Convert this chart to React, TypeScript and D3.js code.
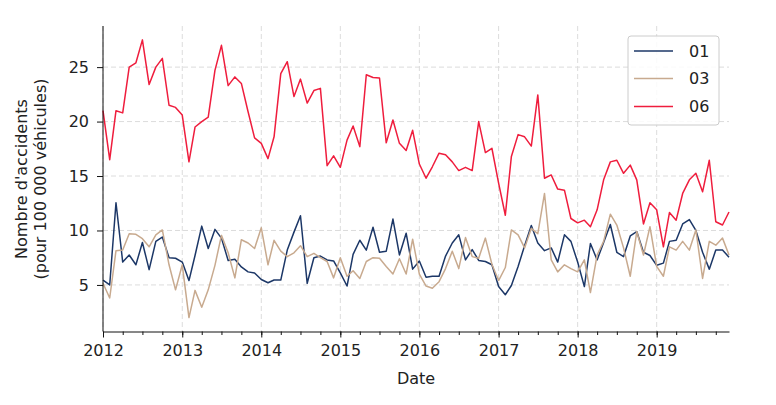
import React, { useRef, useEffect } from 'react';
import { select, scaleTime, scaleLinear, axisBottom, axisLeft, line, timeMonth, timeYear, timeFormat, min, max } from 'd3';

// monthly values, Jan 2012 -> Dec 2019
const months = timeMonth.range(new Date(2012, 0, 1), new Date(2020, 0, 1));

const serie01 = [
  5.45, 5.0, 12.55, 7.1, 7.75, 6.85, 8.9, 6.4, 9.0, 9.4, 7.5, 7.45,
  7.1, 5.4, 7.7, 10.4, 8.35, 10.1, 9.3, 7.25, 7.35, 6.65, 6.2, 6.1,
  5.5, 5.2, 5.45, 5.45, 8.2, 9.85, 11.35, 5.15, 7.5, 7.65, 7.3, 7.2,
  6.1, 4.9, 7.8, 9.1, 8.2, 10.3, 8.0, 8.1, 11.05, 7.75, 9.75, 6.45,
  7.2, 5.7, 5.8, 5.8, 7.65, 8.85, 9.6, 7.3, 8.25, 7.25, 7.15, 6.85,
  4.85, 4.1, 4.95, 6.7, 8.6, 10.45, 8.85, 8.15, 8.4, 7.1, 9.6, 9.0,
  7.1, 4.85, 8.8, 7.3, 8.9, 10.55, 8.0, 7.6, 9.5, 9.9, 8.0, 7.7,
  6.8, 7.0, 9.0, 9.1, 10.6, 11.0, 10.0, 8.0, 6.45, 8.2, 8.2, 7.55,
];

const serie03 = [
  5.15, 3.8, 8.15, 8.2, 9.7, 9.65, 9.25, 8.5, 9.6, 10.05, 6.85, 4.55,
  6.85, 2.0, 4.5, 2.95, 4.55, 6.8, 9.55, 7.95, 5.65, 9.15, 8.85, 8.35,
  10.25, 6.85, 9.1, 8.1, 7.6, 7.95, 8.6, 7.6, 7.9, 7.5, 7.15, 5.65,
  7.5, 5.8, 6.3, 5.6, 7.15, 7.5, 7.45, 6.7, 6.0, 7.4, 6.0, 9.2,
  6.0, 4.9, 4.7, 5.3, 6.5, 8.1, 6.5, 9.35, 7.6, 7.45, 9.3, 6.9,
  5.4, 6.6, 10.05, 9.6, 8.4, 10.2, 9.7, 13.4, 7.3, 6.2, 6.85, 6.5,
  6.2, 7.3, 4.3, 7.75, 9.0, 11.5, 10.5, 8.4, 5.8, 9.9, 7.75, 10.35,
  6.7, 5.8, 8.5, 8.2, 9.0, 8.2, 10.05, 5.6, 9.0, 8.65, 9.3, 7.75,
];

const serie06 = [
  21.0, 16.5, 21.0, 20.8, 25.0, 25.4, 27.5, 23.4, 25.0, 25.8, 21.5, 21.3,
  20.6, 16.3, 19.5, 20.0, 20.4, 24.7, 27.0, 23.3, 24.1, 23.5, 20.9, 18.5,
  18.0, 16.6, 18.6, 24.4, 25.5, 22.3, 23.9, 21.7, 22.85, 23.05, 15.95, 16.85,
  15.8, 18.3, 19.6, 17.7, 24.3, 24.05, 24.0, 18.05, 20.15, 18.0, 17.35, 19.2,
  16.1, 14.8, 15.85, 17.1, 16.95, 16.3, 15.5, 15.8, 15.5, 20.0, 17.15, 17.55,
  14.35, 11.4, 16.8, 18.8, 18.6, 17.75, 22.45, 14.8, 15.1, 13.8, 13.7, 11.1,
  10.7, 10.95, 10.35, 11.9, 14.65, 16.3, 16.45, 15.25, 16.0, 14.65, 10.6, 12.55,
  11.9, 8.5, 11.65, 10.95, 13.4, 14.65, 15.25, 13.55, 16.45, 10.8, 10.5, 11.7,
];

const seriesNames = ['01', '03', '06'];
const seriesValues = [serie01, serie03, serie06];
const colors = ['#1c3767', '#c8aa8f', '#ef1d3d'];
const yTicks = [5, 10, 15, 20, 25];

const FONT = 'DejaVu Sans, sans-serif';

const App = () => {
  const svgRef = useRef(null);

  useEffect(() => {
    const svg = select(svgRef.current);
    const left = 103, right = 729, top = 26, bottom = 331.5;

    const all = seriesValues.flat();
    const lo = min(all), hi = max(all);
    const pad = (hi - lo) * 0.05;

    const xScale = scaleTime()
      .domain([months[0], months[months.length - 1]])
      .range([left, right]);

    const yScale = scaleLinear()
      .domain([lo - pad, hi + pad])
      .range([bottom, top]);

    const yearTicks = xScale.ticks(timeYear.every(1));

    // grid
    svg.select('.grid')
      .selectAll('line.gx')
      .data(yearTicks)
      .join('line')
      .attr('class', 'gx')
      .attr('x1', d => xScale(d)).attr('x2', d => xScale(d))
      .attr('y1', top).attr('y2', bottom)
    svg.select('.grid')
      .selectAll('line.gy')
      .data(yTicks)
      .join('line')
      .attr('class', 'gy')
      .attr('x1', left).attr('x2', right)
      .attr('y1', d => yScale(d)).attr('y2', d => yScale(d))
    svg.select('.grid').selectAll('line')
      .attr('stroke', '#dcdcdc')
      .attr('stroke-width', 1)
      .attr('stroke-dasharray', '5,3')

    // lines
    const lineGen = line()
      .x((d, i) => xScale(months[i]))
      .y(d => yScale(d))

    svg.select('.series')
      .selectAll('path')
      .data(seriesValues)
      .join('path')
      .attr('d', d => lineGen(d))
      .attr('fill', 'none')
      .attr('stroke', (d, i) => colors[i])
      .attr('stroke-width', 1.5)
      .attr('stroke-linejoin', 'round')

    //x-axis minor
    svg.select('.x-minor')
      .attr('transform', `translate(0,${bottom})`)
      .call(axisBottom(xScale).ticks(timeMonth.every(3)).tickSize(3.5).tickSizeOuter(0).tickFormat(() => ''))
    svg.select('.x-minor .domain').remove()

    //x-axis
    svg.select('.x-axis')
      .attr('transform', `translate(0,${bottom})`)
      .call(axisBottom(xScale).ticks(timeYear.every(1)).tickFormat(timeFormat('%Y')).tickSize(6).tickSizeOuter(0).tickPadding(7))

    //y-axis
    svg.select('.y-axis')
      .attr('transform', `translate(${left},0)`)
      .call(axisLeft(yScale).tickValues(yTicks).tickSize(6).tickSizeOuter(0).tickPadding(8))
    svg.select('.y-axis .domain').attr('d', `M0,${bottom}V${top}`)

    svg.selectAll('.x-axis text, .y-axis text')
      .attr('font-family', FONT)
      .attr('font-size', 16)
      .attr('fill', '#222')
    svg.selectAll('.x-axis line, .x-minor line, .y-axis line, .domain')
      .attr('stroke', '#111')
  }, [])

  const legendY = [51, 78.5, 106.5];

  return (
    <svg ref={svgRef} width={776} height={405} style={{ position: 'absolute', left: 0, top: 0, background: '#fff' }}>
      <g className="grid" />
      <g className="series" />
      <g className="x-minor" />
      <g className="x-axis" />
      <g className="y-axis" />
      <text x={416} y={384} textAnchor="middle" fontFamily={FONT} fontSize={16} fill="#222">Date</text>
      <g transform="translate(21,179) rotate(-90)" fontFamily={FONT} fontSize={16} fill="#222">
        <text x={0} y={0} textAnchor="middle" dominantBaseline="central">Nombre d'accidents</text>
        <text x={0} y={19} textAnchor="middle" dominantBaseline="central">(pour 100 000 véhicules)</text>
      </g>
      <g className="legend">
        <rect x={628} y={36} width={91} height={89} rx={3} fill="#fff" fillOpacity={0.85} stroke="#cccccc" />
        {seriesNames.map((name, i) => (
          <g key={name}>
            <line x1={634} x2={673} y1={legendY[i]} y2={legendY[i]} stroke={colors[i]} strokeWidth={1.5} />
            <text x={689} y={legendY[i]} dominantBaseline="central" fontFamily={FONT} fontSize={16} fill="#222">{name}</text>
          </g>
        ))}
      </g>
    </svg>
  )
}

export default App
